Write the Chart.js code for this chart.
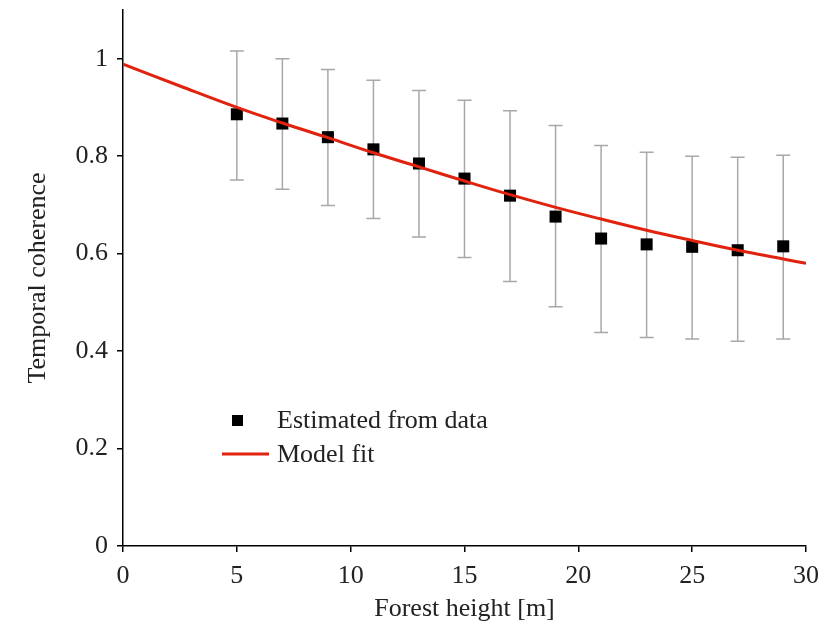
<!DOCTYPE html>
<html>
<head>
<meta charset="utf-8">
<script src="https://cdn.jsdelivr.net/npm/chart.js@4.4.1/dist/chart.umd.min.js"></script>
<style>
  html, body { margin: 0; padding: 0; background: #fff; }
  #wrap { width: 834px; height: 625px; }
</style>
</head>
<body>
<div id="wrap"><canvas id="coherenceChart"></canvas></div>
<script>
// forest height bins [m] and the coherence estimated for each
const heights = [5, 7, 9, 11, 13, 15, 17, 19, 21, 23, 25, 27, 29];
const estimated = [0.886, 0.867, 0.839, 0.814, 0.785, 0.754, 0.719, 0.676, 0.631, 0.619, 0.614, 0.607, 0.615];
const errUpper = [1.016, 1.000, 0.978, 0.956, 0.935, 0.915, 0.893, 0.863, 0.822, 0.808, 0.800, 0.798, 0.802];
const errLower = [0.751, 0.732, 0.699, 0.672, 0.634, 0.592, 0.543, 0.491, 0.438, 0.428, 0.425, 0.420, 0.425];

// model curve
const fitHeights = [0, 2.5, 5, 7, 9, 11, 13, 15, 17, 19, 21, 23, 25, 27, 29, 30];
const fitValues = [0.989, 0.944, 0.900, 0.868, 0.838, 0.807, 0.778, 0.749, 0.721, 0.695, 0.671, 0.648, 0.627, 0.607, 0.589, 0.580];

const xTicks = [0, 5, 10, 15, 20, 25, 30];
const yTicks = [0, 0.2, 0.4, 0.6, 0.8, 1];

const serif = "'Liberation Serif', 'Times New Roman', serif";
const textColor = "#222";
const fitColor = "#e0220e";
const barColor = "#a8a8a8";

// vertical error bars with caps
const errorBars = {
  id: "errorBars",
  beforeDatasetsDraw(chart) {
    const { ctx, scales: { x, y } } = chart;
    ctx.save();
    ctx.strokeStyle = barColor;
    ctx.lineWidth = 1.5;
    heights.forEach((h, i) => {
      const px = x.getPixelForValue(h);
      const top = y.getPixelForValue(errUpper[i]);
      const bot = y.getPixelForValue(errLower[i]);
      ctx.beginPath();
      ctx.moveTo(px, top); ctx.lineTo(px, bot);
      ctx.moveTo(px - 7, top); ctx.lineTo(px + 7, top);
      ctx.moveTo(px - 7, bot); ctx.lineTo(px + 7, bot);
      ctx.stroke();
    });
    ctx.restore();
  }
};

// legend sitting inside the plot
const innerLegend = {
  id: "innerLegend",
  afterDraw(chart) {
    const ctx = chart.ctx;
    const ds = chart.data.datasets;
    ctx.save();
    ctx.font = "26px " + serif;
    ctx.textBaseline = "middle";
    ctx.textAlign = "left";
    // square marker
    ctx.fillStyle = "#000";
    ctx.fillRect(232, 415, 11, 11);
    ctx.fillStyle = textColor;
    ctx.fillText(ds[1].label, 277, 421);
    // line marker
    ctx.strokeStyle = fitColor;
    ctx.lineWidth = 3;
    ctx.beginPath();
    ctx.moveTo(222, 454); ctx.lineTo(269, 454);
    ctx.stroke();
    ctx.fillText(ds[0].label, 277, 455);
    ctx.restore();
  }
};

new Chart(document.getElementById("coherenceChart"), {
  type: "scatter",
  data: {
    datasets: [
      {
        type: "line",
        label: "Model fit",
        data: fitHeights.map((h, i) => ({ x: h, y: fitValues[i] })),
        borderColor: fitColor,
        borderWidth: 3,
        pointRadius: 0,
        tension: 0.4,
        fill: false,
        order: 0
      },
      {
        label: "Estimated from data",
        data: heights.map((h, i) => ({ x: h, y: estimated[i] })),
        pointStyle: "rect",
        pointRadius: 8.5,
        pointBackgroundColor: "#000",
        pointBorderWidth: 0,
        order: 1
      }
    ]
  },
  options: {
    responsive: true,
    maintainAspectRatio: false,
    animation: false,
    layout: { padding: { top: 10, right: 28, left: 0, bottom: 0 } },
    plugins: {
      legend: { display: false },
      tooltip: { enabled: false }
    },
    scales: {
      x: {
        type: "linear",
        min: 0,
        max: 30,
        afterFit: s => { s.height = 79; s.paddingLeft = 0; s.paddingRight = 0; },
        afterBuildTicks: s => { s.ticks = xTicks.map(v => ({ value: v })); },
        border: { display: true, color: "#000", width: 1.5 },
        grid: { drawOnChartArea: false, color: "#000", tickLength: 6, lineWidth: 1.5 },
        ticks: { color: textColor, font: { family: serif, size: 26 }, padding: 9 },
        title: {
          display: true,
          text: "Forest height [m]",
          color: textColor,
          font: { family: serif, size: 26 },
          padding: { top: 0, bottom: 0 }
        }
      },
      y: {
        min: 0,
        max: 1.1,
        afterFit: s => { s.width = 123; s.paddingTop = 0; s.paddingBottom = 0; },
        afterBuildTicks: s => { s.ticks = yTicks.map(v => ({ value: v })); },
        border: { display: true, color: "#000", width: 1.5 },
        grid: { drawOnChartArea: false, color: "#000", tickLength: 6, lineWidth: 1.5 },
        ticks: {
          color: textColor,
          font: { family: serif, size: 26 },
          padding: 9,
          callback: v => String(+v.toFixed(1))
        },
        title: {
          display: true,
          text: "Temporal coherence",
          color: textColor,
          font: { family: serif, size: 26 },
          padding: { top: 23, bottom: 0 }
        }
      }
    }
  },
  plugins: [errorBars, innerLegend]
});
</script>
</body>
</html>
